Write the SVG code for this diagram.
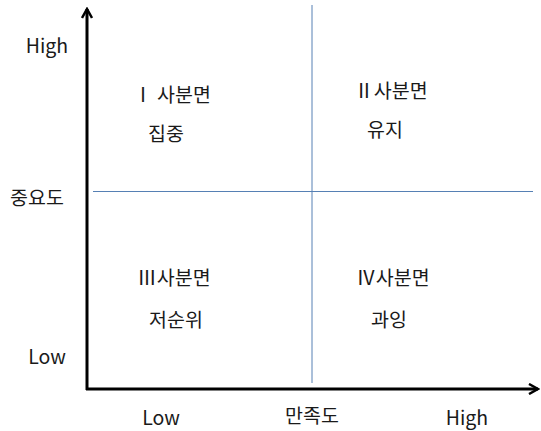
<svg xmlns="http://www.w3.org/2000/svg" width="541" height="431" viewBox="0 0 541 431">
<style>
text{font-family:"Malgun Gothic","Noto Sans CJK KR","Noto Sans",sans-serif;font-size:19.5px;fill:#1a1a1a;text-anchor:middle}
.axis{stroke:#000;stroke-width:3;fill:none}
.grid{stroke:#5680b4;stroke-width:1;fill:none}
</style>
<defs>
<marker id="ah" viewBox="0 0 12 12" refX="10" refY="6" markerWidth="12" markerHeight="12" markerUnits="userSpaceOnUse" orient="auto">
<path d="M1,1 L10,6 L1,11" fill="none" stroke="#000" stroke-width="2.5"/>
</marker>
</defs>
<g id="connectors">
<line class="grid" x1="312" y1="5" x2="312" y2="383"/>
<line class="grid" x1="93" y1="191.5" x2="533" y2="191.5"/>
<line class="axis" x1="87" y1="390" x2="87" y2="9" marker-end="url(#ah)"/>
<line class="axis" x1="86" y1="389" x2="538" y2="389" marker-end="url(#ah)"/>
</g>
<g id="axis-labels">
<text x="47" y="53">High</text>
<text x="47" y="364">Low</text>
<text x="37" y="205">중요도</text>
<text x="161" y="425">Low</text>
<text x="312" y="423">만족도</text>
<text x="467" y="425">High</text>
</g>
<g id="q1"><text x="172" y="102">Ⅰ 사분면</text><text x="166" y="141">집중</text></g>
<g id="q2"><text x="391" y="98">Ⅱ사분면</text><text x="385" y="137">유지</text></g>
<g id="q3"><text x="174" y="285">Ⅲ사분면</text><text x="176" y="327">저순위</text></g>
<g id="q4"><text x="393" y="285">Ⅳ사분면</text><text x="389" y="327">과잉</text></g>
</svg>
